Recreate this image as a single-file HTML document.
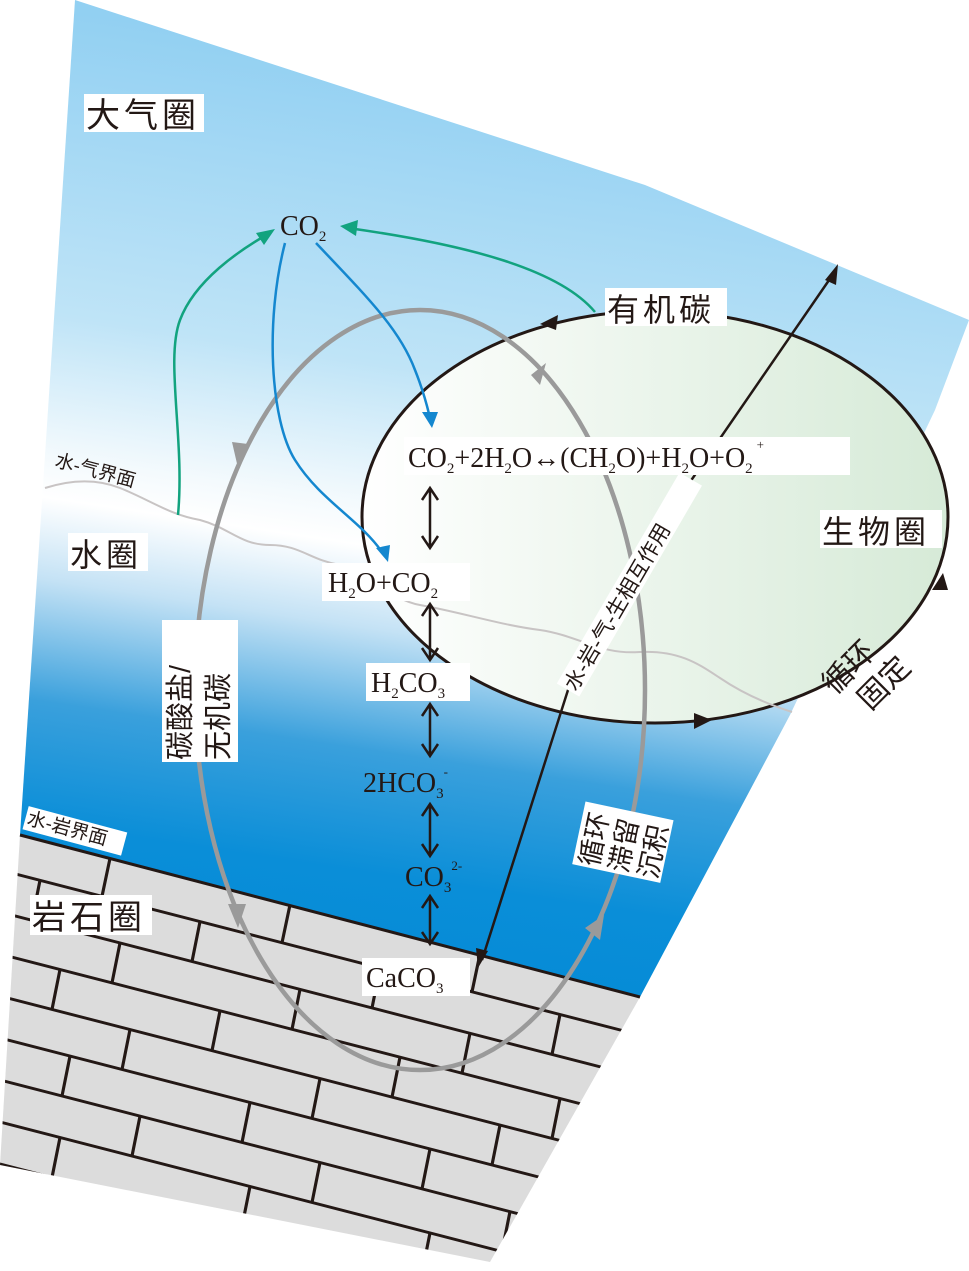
<!DOCTYPE html>
<html><head><meta charset="utf-8"><style>
html,body{margin:0;padding:0;background:#fff;overflow:hidden;width:969px;height:1271px;}
svg{display:block;}
.cn{font-family:"Liberation Sans","Noto Sans CJK SC",sans-serif;fill:#231815;}
.ser{font-family:"Liberation Serif","Noto Serif CJK SC",serif;fill:#231815;}
</style></head><body>
<svg width="969" height="1271" viewBox="0 0 969 1271" xmlns="http://www.w3.org/2000/svg">
<defs>
<linearGradient id="sw" gradientUnits="userSpaceOnUse" x1="0" y1="0" x2="-150" y2="1000">
<stop offset="0" stop-color="#92d0f2"/>
<stop offset="0.3" stop-color="#bfe4f7"/>
<stop offset="0.44" stop-color="#f4fafd"/>
<stop offset="0.48" stop-color="#ffffff"/>
<stop offset="0.56" stop-color="#c4e2f5"/>
<stop offset="0.68" stop-color="#3aa0dc"/>
<stop offset="0.8" stop-color="#0a8ed8"/>
<stop offset="1" stop-color="#0088d4"/>
</linearGradient>
<linearGradient id="eg" x1="0" y1="0" x2="1" y2="0">
<stop offset="0" stop-color="#ffffff"/>
<stop offset="1" stop-color="#d6ead7"/>
</linearGradient>
<clipPath id="rock"><polygon points="20,835 640,997 490,1262 0,1165"/></clipPath>
</defs>

<polygon points="75,0 645,185 969,320 935,410 790,715 640,997 20,835" fill="url(#sw)"/>
<polygon points="20,835 640,997 490,1262 0,1165" fill="#dcdcdc"/>
<g clip-path="url(#rock)" stroke="#231815" stroke-width="3" fill="none">
<g transform="matrix(1,0.258,0,1,0,830)">
<path d="M0,40H700M0,82H700M0,124H700M0,166H700M0,208H700M0,250H700M0,292H700M0,334H700M0,376H700M0,418H700"/>
<path d="M110,0L102,40 M290,0L282,40 M480,0L472,40
M40,40L32,82 M200,40L192,82 M380,40L372,82 M560,40L552,82
M120,82L112,124 M300,82L292,124 M470,82L462,124 M620,82L612,124
M60,124L52,166 M220,124L212,166 M400,124L392,166 M560,124L552,166
M130,166L122,208 M320,166L312,208 M500,166L492,208
M70,208L62,250 M250,208L242,250 M430,208L422,250 M600,208L592,250
M140,250L132,292 M320,250L312,292 M510,250L502,292
M60,292L52,334 M250,292L242,334 M430,292L422,334
M140,334L132,376 M330,334L322,376 M520,334L512,376"/>
</g>
</g>
<line x1="20" y1="835" x2="640" y2="997" stroke="#231815" stroke-width="3"/>

<ellipse cx="655" cy="517" rx="293" ry="206" fill="url(#eg)" stroke="#231815" stroke-width="3"/>
<polygon points="540,324 558,315 556,330" fill="#231815"/>
<polygon points="712,720 694,713 694,729" fill="#231815"/>
<polygon points="943,573 932,590 948,590" fill="#231815"/>

<path d="M45,488 C70,480 95,478 120,488 C150,500 170,515 200,520 C230,528 240,545 270,545 C300,545 310,560 340,565 C370,572 390,600 420,605 C460,612 500,625 540,630 C580,636 600,655 640,652 C680,650 700,665 720,678 C745,695 770,705 792,712" fill="none" stroke="#c8c4c4" stroke-width="2"/>

<ellipse cx="420" cy="690" rx="225" ry="380" fill="none" stroke="#9a9a9a" stroke-width="4.5"/>
<polygon points="232,442 248,444 238,468" fill="#9a9a9a"/>
<polygon points="228,904 246,904 238,928" fill="#9a9a9a"/>
<polygon points="531,375 546,363 540,385" fill="#9a9a9a"/>
<polygon points="585,928 604,915 600,940" fill="#9a9a9a"/>

<!-- black bent line -->
<path d="M482,960 L568,690 L690,482 L836,270" fill="none" stroke="#231815" stroke-width="2.5"/>
<polygon points="838,264 825,280 836,285" fill="#231815"/>
<polygon points="478,968 476,948 488,951" fill="#231815"/>

<path d="M178,515 C185,440 165,360 180,320 C195,280 240,250 268,234" fill="none" stroke="#12a37f" stroke-width="2.5"/>
<polygon points="275,229 256,233 264,245" fill="#12a37f"/>
<path d="M595,312 C560,270 470,245 348,228" fill="none" stroke="#12a37f" stroke-width="2.5"/>
<polygon points="340,226 358,220 356,236" fill="#12a37f"/>
<path d="M285,243 C265,320 270,420 295,460 C320,500 360,520 382,552" fill="none" stroke="#1487cf" stroke-width="2.5"/>
<polygon points="388,562 376,548 390,545" fill="#1487cf"/>
<path d="M316,243 C370,300 400,330 415,370 C425,395 428,410 430,418" fill="none" stroke="#1487cf" stroke-width="2.5"/>
<polygon points="432,428 422,412 438,412" fill="#1487cf"/>

<g stroke="#231815" stroke-width="2.5" fill="none">
<path d="M430,490V546M422,500L430,488L438,500M422,536L430,548L438,536"/>
<path d="M430,606V658M422,616L430,604L438,616M422,648L430,660L438,648"/>
<path d="M430,706V754M422,716L430,704L438,716M422,744L430,756L438,744"/>
<path d="M430,806V854M422,816L430,804L438,816M422,844L430,856L438,844"/>
<path d="M430,898V942M422,908L430,896L438,908M422,932L430,944L438,932"/>
</g>

<rect x="84" y="94" width="120" height="38" fill="#fff"/>
<text x="86" y="127" class="cn" font-size="34" letter-spacing="4">大气圈</text>
<rect x="68" y="533" width="80" height="38" fill="#fff"/>
<text x="70" y="566" class="cn" font-size="32" letter-spacing="4">水圈</text>
<rect x="30" y="895" width="122" height="40" fill="#fff"/>
<text x="32" y="929" class="cn" font-size="34" letter-spacing="4">岩石圈</text>
<rect x="820" y="510" width="122" height="38" fill="#fff"/>
<text x="822" y="543" class="cn" font-size="32" letter-spacing="4">生物圈</text>
<rect x="605" y="288" width="122" height="38" fill="#fff"/>
<text x="607" y="321" class="cn" font-size="32" letter-spacing="4">有机碳</text>

<text x="280" y="235" class="ser" font-size="28">CO<tspan font-size="15" dy="6">2</tspan></text>

<rect x="404" y="437" width="446" height="38" fill="#fff"/>
<text x="408" y="467" class="ser" font-size="28">CO<tspan font-size="15" dy="6">2</tspan><tspan dy="-6">+2H</tspan><tspan font-size="15" dy="6">2</tspan><tspan dy="-6">O↔(CH</tspan><tspan font-size="15" dy="6">2</tspan><tspan dy="-6">O)+H</tspan><tspan font-size="15" dy="6">2</tspan><tspan dy="-6">O+O</tspan><tspan font-size="15" dy="6">2</tspan><tspan font-size="13" dy="-24" dx="4">+</tspan></text>

<rect x="322" y="563" width="148" height="38" fill="#fff"/>
<text x="328" y="592" class="ser" font-size="28">H<tspan font-size="15" dy="6">2</tspan><tspan dy="-6">O+CO</tspan><tspan font-size="15" dy="6">2</tspan></text>
<rect x="366" y="663" width="104" height="38" fill="#fff"/>
<text x="371" y="692" class="ser" font-size="28">H<tspan font-size="15" dy="6">2</tspan><tspan dy="-6">CO</tspan><tspan font-size="15" dy="6">3</tspan></text>
<text x="363" y="792" class="ser" font-size="28">2HCO<tspan font-size="15" dy="6">3</tspan><tspan font-size="13" dy="-22">-</tspan></text>
<text x="405" y="886" class="ser" font-size="28">CO<tspan font-size="15" dy="6">3</tspan><tspan font-size="13" dy="-22">2-</tspan></text>
<rect x="362" y="958" width="108" height="38" fill="#fff"/>
<text x="366" y="987" class="ser" font-size="28">CaCO<tspan font-size="15" dy="6">3</tspan></text>

<g transform="translate(206,762) rotate(-90)">
<rect x="0" y="-44" width="142" height="76" fill="#fff"/>
<text x="2" y="-16" class="cn" font-size="29">碳酸盐/</text>
<text x="2" y="22" class="cn" font-size="29">无机碳</text>
</g>
<g transform="translate(600,868) rotate(-78)">
<rect x="-2" y="-28" width="64" height="90" fill="#fff"/>
<text x="0" y="-2" class="cn" font-size="27">循环</text>
<text x="0" y="28" class="cn" font-size="27">滞留</text>
<text x="0" y="58" class="cn" font-size="27">沉积</text>
</g>
<g transform="translate(836,700) rotate(-45)">
<text x="2" y="-4" class="cn" font-size="30">循环</text>
<text x="16" y="32" class="cn" font-size="30">固定</text>
</g>
<g transform="translate(568,690) rotate(-59.8)">
<rect x="0" y="-13" width="244" height="26" fill="#fff"/>
<text x="2" y="8" class="cn" font-size="21">水-岩-气-生相互作用</text>
</g>
<g transform="translate(54,466) rotate(15)">
<text x="0" y="0" class="cn" font-size="19">水-气界面</text>
</g>
<g transform="translate(26,824) rotate(15)">
<rect x="-2" y="-18" width="102" height="24" fill="#fff"/>
<text x="0" y="0" class="cn" font-size="19">水-岩界面</text>
</g>
</svg>
</body></html>
